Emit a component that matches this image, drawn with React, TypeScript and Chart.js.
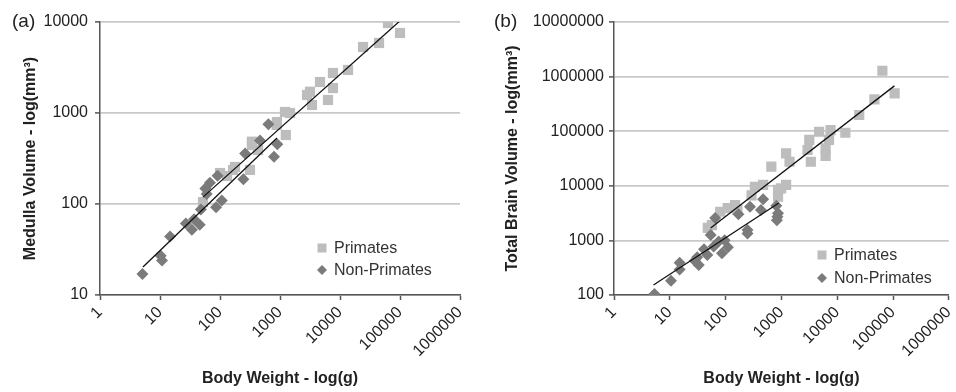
import React, { useEffect, useRef } from 'react';
import { Chart, registerables } from 'chart.js';

Chart.register(...registerables);

const FONT = "'Liberation Sans', Arial, Helvetica, sans-serif";

// ---------- shared axis ticks ----------
const xTicks = [1, 10, 100, 1000, 10000, 100000, 1000000];
const xTickLabels = ['1', '10', '100', '1000', '10000', '100000', '1000000'];
const aYTicks = [10, 100, 1000, 10000];
const aYTickLabels = ['10', '100', '1000', '10000'];
const bYTicks = [100, 1000, 10000, 100000, 1000000, 10000000];
const bYTickLabels = ['100', '1000', '10000', '100000', '1000000', '10000000'];

const seriesNames = ['Primates', 'Non-Primates'];

// ---------- panel (a): medulla volume ----------
const aPrimatesWeight = [63100, 100000, 44700, 24200, 13600, 7640, 4640, 7640, 6310, 3410, 2820, 3160, 1210, 1470, 1250, 890, 880, 341, 340, 430, 316, 178, 165, 131, 100, 52];
const aPrimatesMedulla = [9750, 7570, 5880, 5310, 2970, 2750, 2190, 1880, 1390, 1225, 1577, 1714, 1026, 1000, 573, 796, 740, 445, 484, 392, 237, 255, 237, 203, 219, 105];
const aNonPrimatesWeight = [5.1, 10.3, 10.8, 14.7, 27, 34, 37, 46, 48, 60, 57, 68, 86, 107, 91, 245, 262, 464, 640, 794, 902];
const aNonPrimatesMedulla = [17, 27, 24, 44, 61, 52, 68, 59, 87, 129, 148, 171, 92, 109, 204, 187, 360, 500, 751, 330, 453];
const aPrimatesFitWeight = [52, 100000];
const aPrimatesFitVolume = [119, 10300];
const aNonPrimatesFitWeight = [5.2, 890];
const aNonPrimatesFitVolume = [20.3, 530];

// ---------- panel (b): total brain volume ----------
const bPrimatesWeight = [64500, 107000, 46400, 24800, 14000, 7600, 4740, 3160, 7130, 6200, 6200, 2940, 3370, 1215, 1400, 660, 1215, 870, 870, 990, 470, 335, 292, 148, 80, 109, 163, 57, 48];
const bPrimatesBrain = [1280000, 494000, 384000, 198000, 93700, 105000, 97700, 69300, 69300, 48600, 35300, 45300, 27600, 39400, 27600, 22400, 10400, 8400, 6300, 9000, 10400, 9600, 6700, 4440, 3350, 3900, 3600, 1910, 1690];
const bNonPrimatesWeight = [5.3, 10.5, 15, 15, 28, 33, 31, 41, 47, 61, 54, 65, 75, 96, 86, 110, 170, 247, 247, 274, 470, 430, 810, 870, 850, 830];
const bNonPrimatesBrain = [104, 183, 390, 294, 425, 355, 490, 690, 540, 770, 1250, 2560, 950, 1010, 580, 750, 3000, 1550, 1340, 4140, 5700, 3600, 4300, 3150, 2700, 2350];
const bPrimatesFitWeight = [54, 106000];
const bPrimatesFitVolume = [1690, 676000];
const bNonPrimatesFitWeight = [5.1, 900];
const bNonPrimatesFitVolume = [152, 4840];

const PRIMATE_COLOR = '#bdbdbd';
const NONPRIMATE_COLOR = '#7b7b7b';
const TEXT_COLOR = '#222222';
const AXIS_COLOR = '#555555';
const GRID_COLOR = '#c9c9c9';

const toPoints = (xs: number[], ys: number[]) => xs.map((x, i) => ({ x, y: ys[i] }));

const overlayPlugin = {
  id: 'overlay',
  afterDraw(chart: any, _args: any, opts: any) {
    const ctx = chart.ctx;
    ctx.save();
    ctx.fillStyle = TEXT_COLOR;
    ctx.textBaseline = 'middle';
    ctx.textAlign = 'left';
    ctx.font = `19px ${FONT}`;
    ctx.fillText(opts.panelLabel, opts.labelX, opts.labelY);
    // legend
    ctx.font = `16px ${FONT}`;
    const mx = opts.legendX;
    const y1 = opts.legendY;
    const y2 = opts.legendY + opts.legendGap;
    ctx.fillStyle = PRIMATE_COLOR;
    ctx.fillRect(mx - 4.5, y1 - 4.5, 9, 9);
    ctx.fillStyle = NONPRIMATE_COLOR;
    ctx.beginPath();
    ctx.moveTo(mx, y2 - 5);
    ctx.lineTo(mx + 5, y2);
    ctx.lineTo(mx, y2 + 5);
    ctx.lineTo(mx - 5, y2);
    ctx.closePath();
    ctx.fill();
    ctx.fillStyle = '#333333';
    ctx.fillText(seriesNames[0], mx + 12, y1 + 1);
    ctx.fillText(seriesNames[1], mx + 12, y2 + 1);
    ctx.restore();
  },
};

type PanelProps = {
  width: number;
  left: number;
  yWidth: number;
  padRight: number;
  yTicks: number[];
  yTickLabels: string[];
  yTitle: string;
  yTitlePad: number;
  yTickPad: number;
  primW: number[];
  primV: number[];
  nonW: number[];
  nonV: number[];
  pFitW: number[];
  pFitV: number[];
  nFitW: number[];
  nFitV: number[];
  panelLabel: string;
  labelX: number;
  legendX: number;
  legendY: number;
  legendGap: number;
};

function Panel(p: PanelProps) {
  const ref = useRef<HTMLCanvasElement | null>(null);
  useEffect(() => {
    if (!ref.current) return;
    const chart = new Chart(ref.current, {
      type: 'scatter',
      data: {
        datasets: [
          {
            label: 'Primates fit',
            data: toPoints(p.pFitW, p.pFitV),
            showLine: true,
            borderColor: '#111111',
            borderWidth: 1.3,
            pointRadius: 0,
            order: 0,
          },
          {
            label: 'Non-Primates fit',
            data: toPoints(p.nFitW, p.nFitV),
            showLine: true,
            borderColor: '#111111',
            borderWidth: 1.3,
            pointRadius: 0,
            order: 0,
          },
          {
            label: seriesNames[1],
            data: toPoints(p.nonW, p.nonV),
            pointStyle: 'rectRot',
            pointRadius: 6,
            backgroundColor: NONPRIMATE_COLOR,
            borderWidth: 0,
            order: 1,
          },
          {
            label: seriesNames[0],
            data: toPoints(p.primW, p.primV),
            pointStyle: 'rect',
            pointRadius: 7.2,
            backgroundColor: PRIMATE_COLOR,
            borderWidth: 0,
            order: 2,
          },
        ],
      },
      options: {
        responsive: false,
        animation: false,
        devicePixelRatio: 1,
        layout: { padding: { left: 0, top: 22, right: p.padRight, bottom: 0 } },
        plugins: {
          legend: { display: false },
          tooltip: { enabled: false },
          overlay: {
            panelLabel: p.panelLabel,
            labelX: p.labelX,
            labelY: 22,
            legendX: p.legendX,
            legendY: p.legendY,
            legendGap: p.legendGap,
          },
        } as any,
        scales: {
          x: {
            type: 'logarithmic',
            min: xTicks[0],
            max: xTicks[xTicks.length - 1],
            afterBuildTicks: (scale: any) => {
              scale.ticks = xTicks.map((v) => ({ value: v }));
            },
            afterFit: (scale: any) => {
              scale.height = 97;
              scale.paddingLeft = 0;
              scale.paddingRight = 0;
            },
            border: { display: true, color: AXIS_COLOR, width: 1.5 },
            grid: {
              display: true,
              drawOnChartArea: false,
              drawTicks: true,
              tickLength: 5,
              tickColor: AXIS_COLOR,
              tickWidth: 1.5,
            },
            ticks: {
              autoSkip: false,
              minRotation: 45,
              maxRotation: 45,
              padding: 3,
              color: TEXT_COLOR,
              font: { family: FONT, size: 16 },
              callback: (v: any) => {
                const i = xTicks.indexOf(Number(v));
                return i >= 0 ? xTickLabels[i] : '';
              },
            },
            title: {
              display: true,
              text: 'Body Weight - log(g)',
              color: TEXT_COLOR,
              font: { family: FONT, size: 16, weight: 'bold' },
              padding: { top: 0, bottom: 4 },
            },
          },
          y: {
            type: 'logarithmic',
            min: p.yTicks[0],
            max: p.yTicks[p.yTicks.length - 1],
            afterBuildTicks: (scale: any) => {
              scale.ticks = p.yTicks.map((v) => ({ value: v }));
            },
            afterFit: (scale: any) => {
              scale.width = p.yWidth;
            },
            border: { display: true, color: AXIS_COLOR, width: 1.5 },
            grid: {
              display: true,
              color: GRID_COLOR,
              lineWidth: 1.8,
              drawTicks: true,
              tickLength: 5,
              tickColor: AXIS_COLOR,
              tickWidth: 1.5,
            },
            ticks: {
              autoSkip: false,
              padding: p.yTickPad,
              color: TEXT_COLOR,
              font: { family: FONT, size: 16 },
              callback: (v: any) => {
                const i = p.yTicks.indexOf(Number(v));
                return i >= 0 ? p.yTickLabels[i] : '';
              },
            },
            title: {
              display: true,
              text: p.yTitle,
              color: TEXT_COLOR,
              font: { family: FONT, size: 16, weight: 'bold' },
              padding: { top: p.yTitlePad, bottom: 0 },
            },
          },
        },
      } as any,
      plugins: [overlayPlugin as any],
    });
    return () => chart.destroy();
  }, []);
  return (
    <div style={{ position: 'absolute', left: p.left, top: 0, width: p.width, height: 392 }}>
      <canvas ref={ref} width={p.width} height={392} style={{ display: 'block' }} />
    </div>
  );
}

export default function App() {
  return (
    <div style={{ position: 'fixed', left: 0, top: 0, width: 956, height: 392, background: '#ffffff', overflow: 'hidden' }}>
      <Panel
        width={476}
        left={0}
        yWidth={100}
        padRight={16}
        yTicks={aYTicks}
        yTickLabels={aYTickLabels}
        yTitle="Medulla Volume - log(mm³)"
        yTitlePad={21}
        yTickPad={7}
        primW={aPrimatesWeight}
        primV={aPrimatesMedulla}
        nonW={aNonPrimatesWeight}
        nonV={aNonPrimatesMedulla}
        pFitW={aPrimatesFitWeight}
        pFitV={aPrimatesFitVolume}
        nFitW={aNonPrimatesFitWeight}
        nFitV={aNonPrimatesFitVolume}
        panelLabel="(a)"
        labelX={12}
        legendX={322}
        legendY={248}
        legendGap={22}
      />
      <Panel
        width={480}
        left={476}
        yWidth={138}
        padRight={3}
        yTicks={bYTicks}
        yTickLabels={bYTickLabels}
        yTitle="Total Brain Volume - log(mm³)"
        yTitlePad={27}
        yTickPad={5}
        primW={bPrimatesWeight}
        primV={bPrimatesBrain}
        nonW={bNonPrimatesWeight}
        nonV={bNonPrimatesBrain}
        pFitW={bPrimatesFitWeight}
        pFitV={bPrimatesFitVolume}
        nFitW={bNonPrimatesFitWeight}
        nFitV={bNonPrimatesFitVolume}
        panelLabel="(b)"
        labelX={18}
        legendX={346}
        legendY={255}
        legendGap={23}
      />
    </div>
  );
}
